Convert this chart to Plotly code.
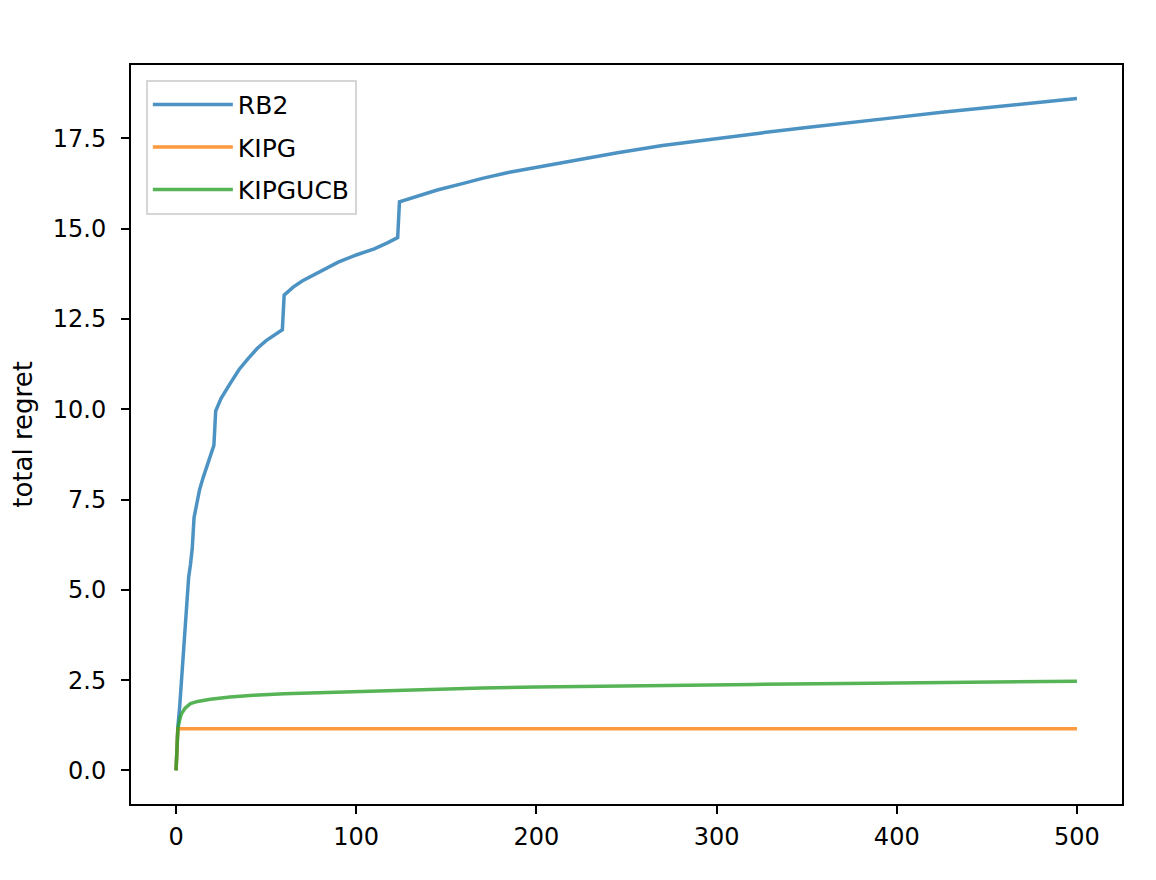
import plotly.graph_objects as go

# values
rb2_t = [0, 1, 2, 3, 4, 5, 6, 7, 8, 9, 10, 11, 13, 15, 17, 19, 21, 22, 25, 30, 35, 40, 45, 50, 55, 59, 60,
         65, 70, 75, 80, 90, 100, 110, 117, 123, 124, 135, 145, 160, 170, 185, 200, 220, 245, 270, 300,
         325, 350, 375, 400, 425, 450, 475, 500]
rb2_regret = [0.0, 1.2, 1.75, 2.45, 3.1, 3.9, 4.5, 5.35, 5.7, 6.15, 7.0, 7.25, 7.76, 8.1, 8.4, 8.7, 9.0, 9.95,
              10.3, 10.71, 11.1, 11.4, 11.68, 11.9, 12.08, 12.2, 13.16, 13.38, 13.55, 13.68, 13.82, 14.07,
              14.27, 14.44, 14.6, 14.75, 15.74, 15.9, 16.07, 16.26, 16.39, 16.56, 16.7, 16.89, 17.1, 17.3,
              17.5, 17.65, 17.8, 17.95, 18.08, 18.22, 18.34, 18.46, 18.6]

kipg_t = [0, 1, 500]
kipg_regret = [0.0, 1.15, 1.15]

kipgucb_t = [0, 1, 2, 3, 5, 8, 12, 19, 30, 43, 60, 80, 100, 135, 170, 200, 260, 320, 387, 450, 500]
kipgucb_regret = [0.0, 1.15, 1.4, 1.57, 1.72, 1.85, 1.91, 1.97, 2.03, 2.08, 2.12, 2.15, 2.19, 2.24, 2.28,
                  2.31, 2.35, 2.38, 2.41, 2.44, 2.47]

x_ticks = [0, 100, 200, 300, 400, 500]
y_ticks = [0.0, 2.5, 5.0, 7.5, 10.0, 12.5, 15.0, 17.5]

fig = go.Figure()

series = [
    ("RB2", rb2_t, rb2_regret, "rgba(31,119,180,0.8)"),
    ("KIPG", kipg_t, kipg_regret, "rgba(255,127,14,0.8)"),
    ("KIPGUCB", kipgucb_t, kipgucb_regret, "rgba(44,160,44,0.8)"),
]
for name, t, r, color in series:
    fig.add_trace(go.Scatter(
        x=t,
        y=r,
        mode="lines",
        line=dict(color=color, width=3.5),
        name=name,
        legendgroup=name,
    ))

axis_style = dict(
    showline=True, mirror=True, linecolor="black", linewidth=2,
    ticks="outside", ticklen=8, tickwidth=2, tickcolor="black",
    showgrid=False, zeroline=False,
)

# page body adds ~7px offset, margins are shifted to compensate
fig.update_layout(
    width=1156, height=880,
    margin=dict(l=123, r=42, t=57, b=84),
    plot_bgcolor="white", paper_bgcolor="white",
    font=dict(family="DejaVu Sans", color="black", size=24),
    showlegend=True,
    legend=dict(
        x=0.015, y=0.98, xanchor="left", yanchor="top",
        bordercolor="#d6d6d6", borderwidth=2, bgcolor="rgba(255,255,255,0.8)",
        tracegroupgap=7, traceorder="grouped", itemwidth=80,
        font=dict(size=25),
    ),
    xaxis=dict(range=[-25, 525], tickvals=x_ticks, ticklabelstandoff=2, **axis_style),
    yaxis=dict(range=[-0.93, 19.53], tickvals=y_ticks, tickformat=".1f", ticklabelstandoff=10,
               title=dict(text="total regret", standoff=13,
                          font=dict(family="DejaVu Sans", size=26)),
               **axis_style),
)

fig.write_html("out.html")
